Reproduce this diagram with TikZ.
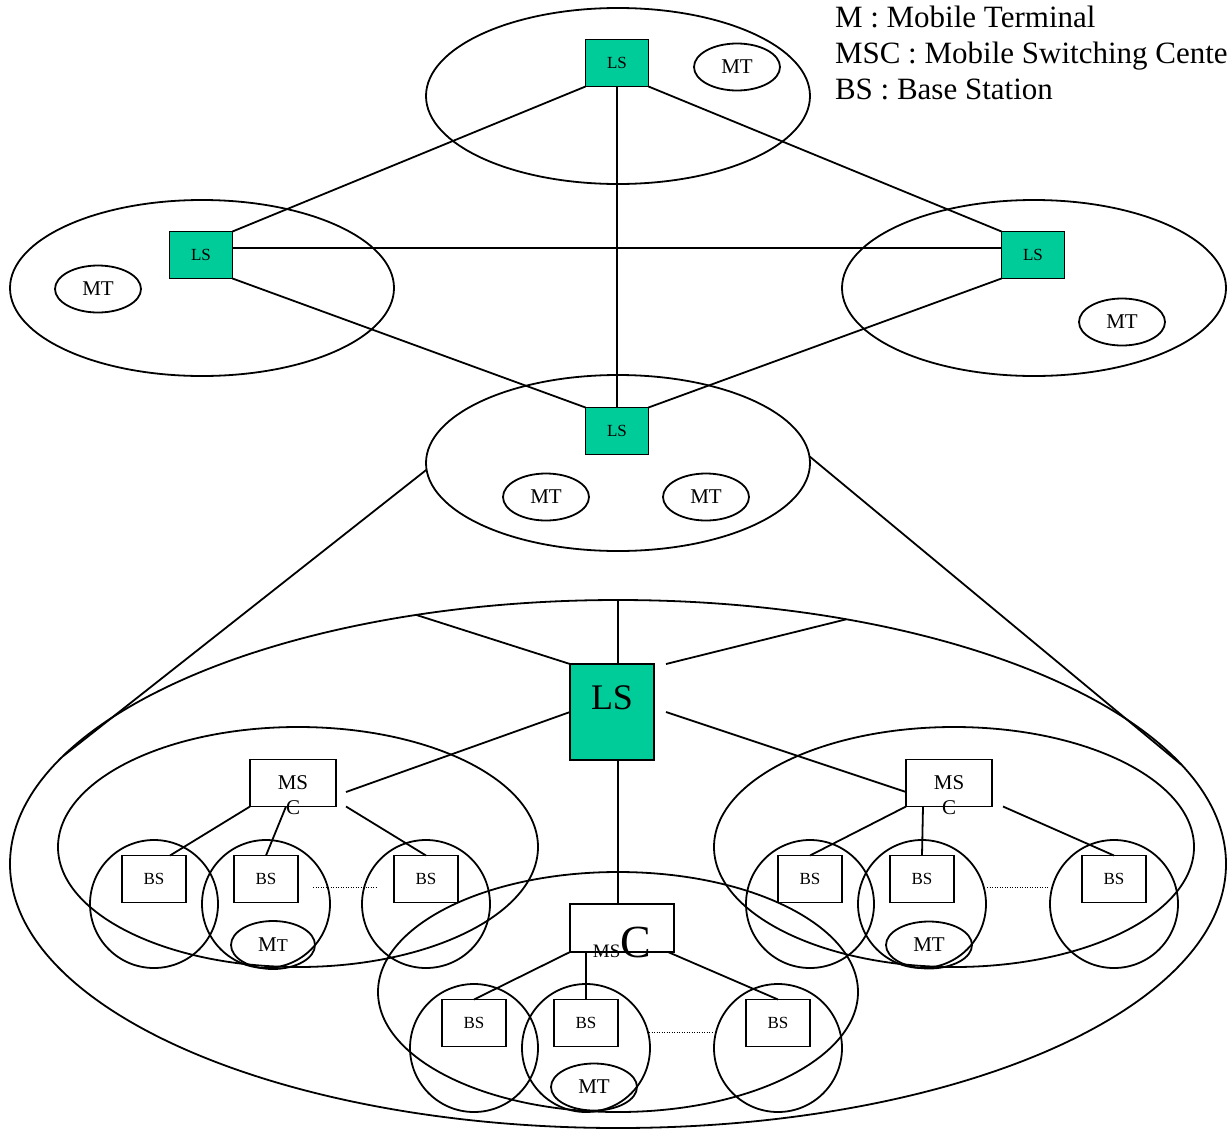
\documentclass[tikz,border=0pt]{standalone}
\usepackage{fontspec}
\setmainfont{Liberation Serif}
\usetikzlibrary{shapes.geometric,calc}
\definecolor{lsgreen}{RGB}{0,204,153}
\newcommand{\myfs}[1]{\fontsize{#1}{#1}\selectfont}
\begin{document}
\begin{tikzpicture}[x=1pt,y=-1pt, line width=1.8pt,
  every node/.style={inner sep=0pt, outer sep=0pt},
  cell/.style={draw, ellipse, minimum width=384pt, minimum height=176pt},
  lsbox/.style={draw, fill=lsgreen, rectangle, minimum width=63pt, minimum height=47pt, font=\myfs{17}},
  mtell/.style={draw, ellipse, minimum width=86pt, minimum height=47pt, font=\myfs{21}},
  bsbox/.style={draw, rectangle, minimum width=64pt, minimum height=47pt, font=\myfs{17}},
  bscell/.style={draw, circle, minimum size=128pt},
  mscbox/.style={draw, rectangle, minimum width=86pt, minimum height=47pt, font=\myfs{21}},
  cluster/.style={draw, ellipse, minimum width=480pt, minimum height=240pt},
  dotlink/.style={line width=1pt, dash pattern=on 1pt off 1.5pt},
  legend/.style={anchor=base west, font=\myfs{31}}
]
\useasboundingbox (0,0) rectangle (1231,1130);
\clip (0,0) rectangle (1231,1130);

% ---------- upper network ----------
\node[cell] (Etop) at (618,96) {};
\node[cell] (Eleft) at (202,288) {};
\node[cell] (Eright) at (1034,288) {};
\node[cell] (Emid) at (618,463) {};

\node[lsbox] (LStop) at (617,63) {LS};
\node[lsbox] (LSl) at (201,255) {LS};
\node[lsbox] (LSr) at (1033,255) {LS};
\node[lsbox] (LSm) at (617,431) {LS};

\node[mtell] (MTtop) at (737,67) {MT};
\node[mtell] (MTl) at (98,289) {MT};
\node[mtell] (MTr) at (1122,322) {MT};
\node[mtell] (MTm1) at (546,497) {MT};
\node[mtell] (MTm2) at (706,497) {MT};

\draw (LStop.south west) -- (LSl.north east);
\draw (LStop.south east) -- (LSr.north west);
\draw (LStop.south) -- (LSm.north);
\draw ([yshift=7pt]LSl.east) -- ([yshift=7pt]LSr.west);
\draw (LSl.south east) -- (LSm.north west);
\draw (LSr.south west) -- (LSm.north east);

% legend
\node[legend] (leg1) at (835,27) {M : Mobile Terminal};
\node[legend] (leg2) at (835,63) {MSC : Mobile Switching Cente};
\node[legend] (leg3) at (835,99) {BS : Base Station};

% ---------- enlarged region ----------
\node[draw, ellipse, minimum width=1216pt, minimum height=528pt] (Big) at (618,864) {};
\draw (Emid.182.7) -- (Big.169.1);
\draw (Emid.2.4) -- (Big.10.5);

\node[draw, fill=lsgreen, rectangle, minimum width=84pt, minimum height=96pt] (LSbig) at (612,712) {};
\node[anchor=base, font=\myfs{36}] (LSbigtxt) at (612,709) {LS};

% clusters
\node[cluster] (Cl) at (298,847) {};
\node[cluster] (Cr) at (954,847) {};
\node[cluster] (Cb) at (618,992) {};

% MSC boxes
\node[mscbox] (MSCL) at (293,783) {MS};
\node[font=\myfs{21}] (MSCLc) at ([yshift=-1pt]MSCL.south) {C};
\node[mscbox] (MSCR) at (949,783) {MS};
\node[font=\myfs{21}] (MSCRc) at ([yshift=-1pt]MSCR.south) {C};
\node[draw, rectangle, minimum width=104pt, minimum height=48pt] (MSCB) at (622,928) {};
\node[anchor=base] (MSCBtxt) at (622,957) {\myfs{19}MS\myfs{46}C};

% BS boxes and cells
\node[bsbox] (BS1) at (154,879) {BS};
\node[bsbox] (BS2) at (266,879) {BS};
\node[bsbox] (BS3) at (426,879) {BS};
\node[bscell] (C1) at (154,904) {};
\node[bscell] (C2) at (266,904) {};
\node[bscell] (C3) at (426,904) {};
\node[mtell, minimum width=84pt, minimum height=48pt] (MTc2) at (273,945) {M{\myfs{18}T}};

\node[bsbox] (BS4) at (810,879) {BS};
\node[bsbox] (BS5) at (922,879) {BS};
\node[bsbox] (BS6) at (1114,879) {BS};
\node[bscell] (C4) at (810,904) {};
\node[bscell] (C5) at (922,904) {};
\node[bscell] (C6) at (1114,904) {};
\node[mtell] (MTc5) at (929,945) {MT};

\node[bsbox] (BS7) at (474,1023) {BS};
\node[bsbox] (BS8) at (586,1023) {BS};
\node[bsbox] (BS9) at (778,1023) {BS};
\node[bscell] (C7) at (474,1048) {};
\node[bscell] (C8) at (586,1048) {};
\node[bscell] (C9) at (778,1048) {};
\node[mtell] (MTc8) at (594,1087) {MT};

% big LS connectors
\draw (Big.north) -- (Big.north |- LSbig.north);
\draw (LSbig.south -| Big.north) -- (MSCB.north -| Big.north);
\draw (LSbig.north west) -- (Big.129.7);
\coordinate (lsA) at ([xshift=12pt]LSbig.north east);
\draw (lsA) -- (Big.47.9);
\coordinate (lsB) at ([xshift=12pt]LSbig.east);
\coordinate (msclA) at ([xshift=10pt,yshift=-9pt]MSCL.east);
\draw (LSbig.west) -- (msclA);
\draw (lsB) -- ([yshift=-9pt]MSCR.west);

% MSC to BS
\draw (MSCL.south west) -- ([xshift=16pt]BS1.north);
\draw ([xshift=-7pt]MSCL.south) -- (BS2.north);
\coordinate (msclB) at ([xshift=10pt]MSCL.south east);
\draw (msclB) -- (BS3.north);

\draw (MSCR.south west) -- (BS4.north);
\draw ([xshift=-26pt]MSCR.south) -- (BS5.north);
\coordinate (mscrB) at ([xshift=11pt]MSCR.south east);
\draw (mscrB) -- (BS6.north);

\draw (MSCB.south west) -- (BS7.north);
\draw (BS8.north |- MSCB.south) -- (BS8.north);
\draw ([xshift=-6pt]MSCB.south east) -- (BS9.north);

% dotted
\draw[dotlink] ([xshift=15pt,yshift=-8pt]BS2.east) -- ([xshift=-18pt,yshift=-8pt]BS3.west);
\draw[dotlink] ([xshift=33pt,yshift=-8pt]BS5.east) -- ([xshift=-34pt,yshift=-8pt]BS6.west);
\draw[dotlink] ([xshift=31pt,yshift=-9pt]BS8.east) -- ([xshift=-34pt,yshift=-9pt]BS9.west);
\end{tikzpicture}
\end{document}
